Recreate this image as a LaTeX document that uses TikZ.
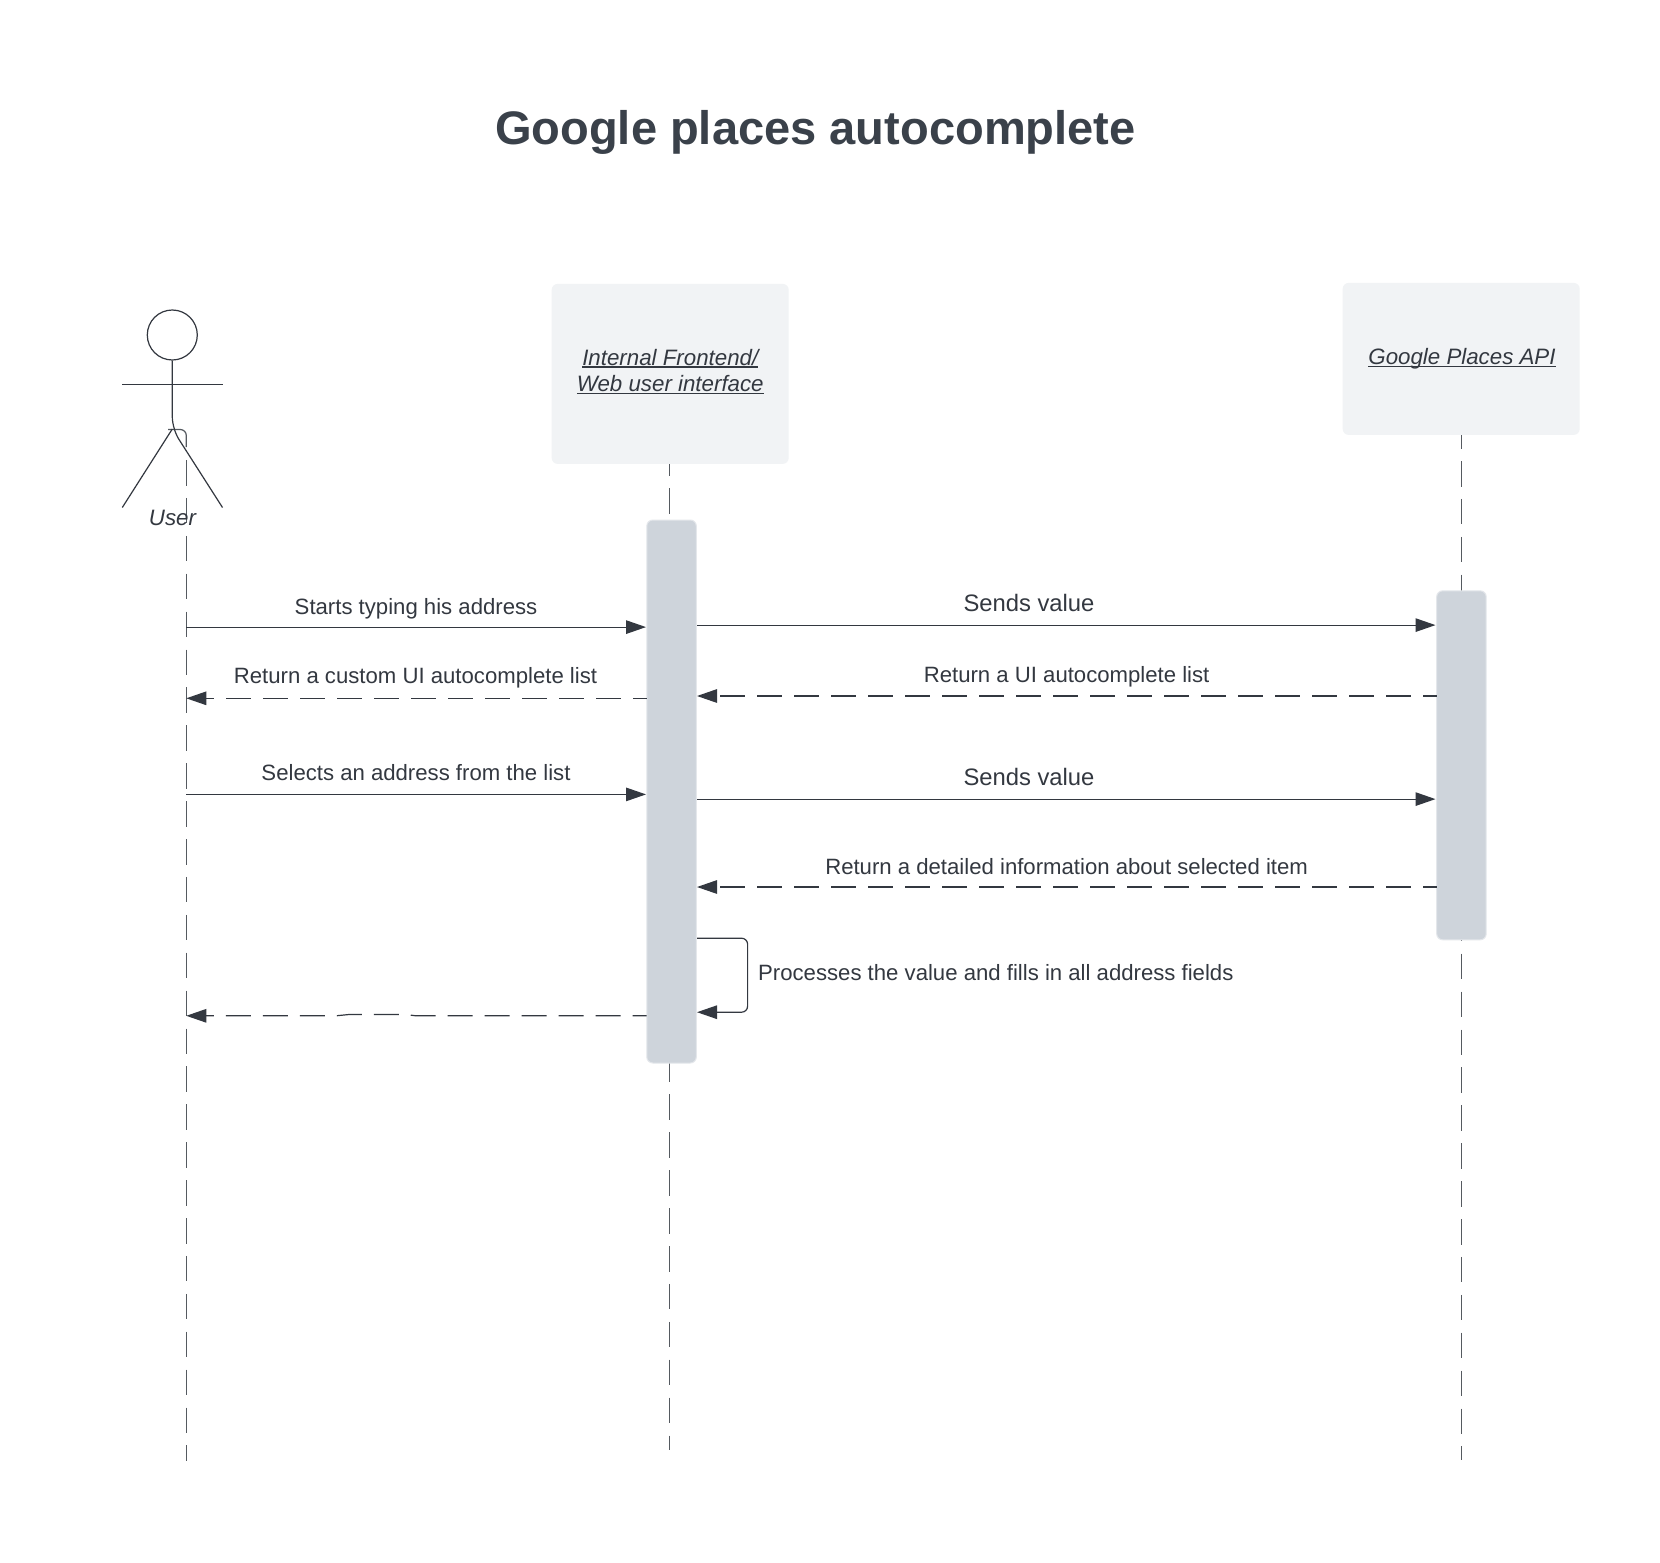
\documentclass[tikz,border=0pt]{standalone}
\usepackage{fontspec}
\setmainfont{Liberation Sans}
\usetikzlibrary{arrows.meta}
\definecolor{inkc}{HTML}{333840}
\definecolor{titlec}{HTML}{3A414A}
\definecolor{linec}{HTML}{555A60}
\definecolor{boxc}{HTML}{F1F3F5}
\definecolor{actc}{HTML}{CED4DB}
\definecolor{actb}{HTML}{E4E7EB}
\newcommand{\uline}[1]{\setbox0\hbox{#1}\rlap{\rule[-2.6pt]{\wd0}{1.3pt}}\box0}
\tikzset{
  lifebox/.style={fill=boxc,rounded corners=6pt,inner sep=0pt,anchor=north west},
  activation/.style={fill=actc,draw=actb,line width=1pt,rounded corners=6pt,inner sep=0pt,anchor=north west},
  lifeline/.style={draw=linec,line width=1.2pt,dash pattern=on 25.5pt off 12.4pt},
  msg/.style={draw=inkc,line width=1.2pt,-{Triangle[length=20pt,width=13.5pt]}},
  reply/.style={msg,dash pattern=on 25pt off 12pt,dash phase=11pt},
  lbl/.style={text=inkc,inner sep=0pt,font=\fontsize{22.15}{26}\selectfont},
  lblbig/.style={text=inkc,inner sep=0pt,font=\fontsize{23.8}{28}\selectfont},
  role/.style={text=inkc,inner sep=0pt,align=center,font=\fontsize{22.3}{26.5}\selectfont\itshape},
  stick/.style={draw=inkc,line width=1.2pt}
}
\begin{document}
\begin{tikzpicture}[x=1pt,y=-1pt]
\useasboundingbox (0,0) rectangle (1660,1563);
\fill[white] (0,0) rectangle (1660,1563);
\node[text=titlec,inner sep=0pt,font=\fontsize{47.05}{55}\selectfont\bfseries] (title) at (815.4,132) {Google places autocomplete};
% lifeline boxes
\node[lifebox,minimum width=237pt,minimum height=180pt] (fe) at (551.5,283.7) {};
\node[lifebox,minimum width=237pt,minimum height=152pt] (gp) at (1342.5,282.7) {};
\node[role] (felabel) at (670.3,371.5) {\uline{Internal Frontend/}\\\uline{Web user interface}};
\node[role] (gplabel) at (1462,359) {\uline{Google Places API}};
% lifeline ends
\coordinate (uhip) at (168,429.5);
\coordinate (ucorner) at (186.3,429.5);
\coordinate (uhook) at (186.3,447);
\coordinate (ustart) at (186.3,460);
\coordinate (uend) at (186.3,1461);
\coordinate (feend) at (669.7,1450);
\coordinate (gpend) at (1461.5,1460);
\draw[stick,draw=linec,rounded corners=6pt] (uhip) -- (ucorner) -- (uhook);
\draw[lifeline] (ustart) -- (uend);
\draw[lifeline,dash phase=14pt] (fe.south -| feend) -- (feend);
\draw[lifeline,dash phase=12pt] (gp.south -| gpend) -- (gpend);
% activations
\node[activation,minimum width=49.5pt,minimum height=543pt] (a1) at (646.3,519.5) {};
\node[activation,minimum width=49.5pt,minimum height=349pt] (a2) at (1436.2,590.3) {};
% actor
\node[draw=inkc,line width=1.2pt,circle,inner sep=0pt,minimum size=50pt] (head) at (172.3,335) {};
\coordinate (hip) at (172.3,429);
\coordinate (larm) at (122.3,384.7);
\coordinate (rarm) at (222.5,384.7);
\coordinate (lfoot) at (122.3,507.5);
\coordinate (rfoot) at (222.5,507.5);
\draw[stick] (larm) -- (rarm);
\draw[stick,rounded corners=12pt] (head.south) -- (hip) -- (rfoot);
\draw[stick] (hip) -- (lfoot);
\node[role] (user) at (172.5,518) {User};
% message end points
\coordinate (u1) at (186.3,627.1);  \coordinate (f1) at (646,627.1);
\coordinate (u2) at (186.3,698.3);  \coordinate (f2) at (646.7,698.3);
\coordinate (u3) at (186.3,794.4);  \coordinate (f3) at (646,794.4);
\coordinate (u4) at (186.3,1015.8); \coordinate (f4) at (646.7,1015.8);
\coordinate (r1a) at (697,625.1);   \coordinate (r1b) at (1435.5,625.1);
\coordinate (r2a) at (697,696);     \coordinate (r2b) at (1436.7,696);
\coordinate (r3a) at (697,799.1);   \coordinate (r3b) at (1435.5,799.1);
\coordinate (r4a) at (697,887);     \coordinate (r4b) at (1436.7,887);
\coordinate (s1) at (697,938.2);    \coordinate (s2) at (747.6,938.2);
\coordinate (s3) at (747.6,1012.2); \coordinate (s4) at (697,1012.2);
\coordinate (g1) at (416,1015.8);   \coordinate (g2) at (405,1014.4);
\coordinate (g3) at (350,1014.4);   \coordinate (g4) at (336,1015.8);
% messages
\draw[msg] (u1) -- (f1);
\draw[reply] (f2) -- (u2);
\draw[msg] (u3) -- (f3);
\draw[reply] (f4) -- (g1) -- (g2) -- (g3) -- (g4) -- (u4);
\draw[msg] (r1a) -- (r1b);
\draw[reply] (r2b) -- (r2a);
\draw[msg] (r3a) -- (r3b);
\draw[reply] (r4b) -- (r4a);
\draw[msg,rounded corners=6pt] (s1) -- (s2) -- (s3) -- (s4);
% labels
\node[lbl] (t1) at (416,608.6) {Starts typing his address};
\node[lbl] (t2) at (415.5,677.5) {Return a custom UI autocomplete list};
\node[lbl] (t3) at (416,773) {Selects an address from the list};
\node[lblbig] (t4) at (1029,602.5) {Sends value};
\node[lbl] (t5) at (1066.6,676.5) {Return a UI autocomplete list};
\node[lblbig] (t6) at (1029,777) {Sends value};
\node[lbl] (t7) at (1066.6,866.4) {Return a detailed information about selected item};
\node[lbl,anchor=west] (t8) at (758,973) {Processes the value and fills in all address fields};
\end{tikzpicture}
\end{document}
